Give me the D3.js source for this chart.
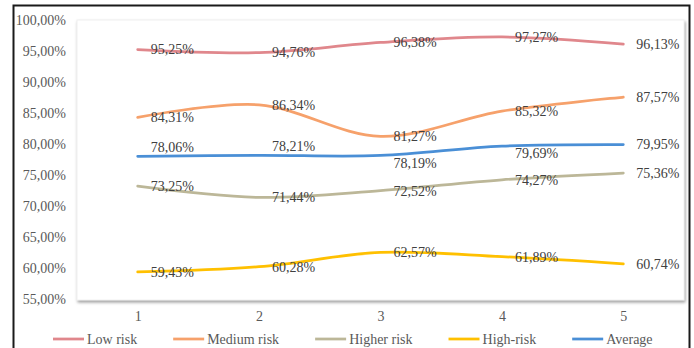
<!DOCTYPE html>
<html>
<head>
<meta charset="utf-8">
<script src="https://cdn.jsdelivr.net/npm/d3@7"></script>
<style>
  html, body { margin: 0; padding: 0; background: #fff; }
  svg { display: block; font-family: "Liberation Serif", "Times New Roman", serif; }
</style>
</head>
<body>
<svg id="chart" width="694" height="348"></svg>
<script>
// Periods on the x axis
const periods = [1, 2, 3, 4, 5];

// Share per risk group (%), one array per series
const lowRisk    = [95.25, 94.76, 96.38, 97.27, 96.13];
const mediumRisk = [84.31, 86.34, 81.27, 85.32, 87.57];
const higherRisk = [73.25, 71.44, 72.52, 74.27, 75.36];
const highRisk   = [59.43, 60.28, 62.57, 61.89, 60.74];
const average    = [78.06, 78.21, 78.19, 79.69, 79.95];

const seriesNames = ["Low risk", "Medium risk", "Higher risk", "High-risk", "Average"];
const seriesValues = [lowRisk, mediumRisk, higherRisk, highRisk, average];
const seriesColors = ["#e0878c", "#f6a16b", "#bcb798", "#ffc000", "#4a8fd6"];

// Y axis ticks
const yTicks = [55, 60, 65, 70, 75, 80, 85, 90, 95, 100];

// Vertical nudges for the labels of each series (keeps Average labels clear of the line)
const labelNudge = [
  [0, 0, 0, 0, 0],
  [0, 0, 0, 0, 0],
  [0, 0, 0, 0, 0],
  [0, 0, 0, 0, 0],
  [-9, -9, 8, 7, 0]
];

const fmt = v => v.toFixed(2).replace(".", ",") + "%";

const svg = d3.select("#chart");

// Outer frame
svg.append("rect")
  .attr("x", 13.5).attr("y", 5.5)
  .attr("width", 676).attr("height", 360)
  .attr("fill", "#fff").attr("stroke", "#1a1a1a").attr("stroke-width", 2);

const plot = { left: 77, right: 684, top: 20, bottom: 300 };

// Soft shadow under the plot area
const defs = svg.append("defs");
const f = defs.append("filter").attr("id", "shadow")
  .attr("x", "-5%").attr("y", "-5%").attr("width", "110%").attr("height", "115%");
f.append("feDropShadow").attr("dx", 1).attr("dy", 2).attr("stdDeviation", 1.5)
  .attr("flood-color", "#7f7f7f").attr("flood-opacity", 0.75);

svg.append("rect")
  .attr("x", plot.left).attr("y", plot.top)
  .attr("width", plot.right - plot.left).attr("height", plot.bottom - plot.top)
  .attr("fill", "#fff").attr("stroke", "#f0f0f0").attr("stroke-width", 1)
  .attr("filter", "url(#shadow)");

const x = d3.scalePoint().domain(periods).range([plot.left, plot.right]).padding(0.5);
const y = d3.scaleLinear().domain([55, 100]).range([299.5, 20]);

// Y axis labels
const yAxis = d3.axisLeft(y).tickValues(yTicks).tickSize(0).tickPadding(0)
  .tickFormat(d => d.toFixed(2).replace(".", ",") + "%");
const yg = svg.append("g").attr("transform", "translate(66,0)").call(yAxis);
yg.select(".domain").remove();
yg.selectAll("text").attr("font-size", 14).attr("fill", "#595959")
  .attr("font-family", "Liberation Serif, serif");

// X axis labels
const xAxis = d3.axisBottom(x).tickSize(0).tickPadding(0);
const xg = svg.append("g").attr("transform", "translate(0,311)").call(xAxis);
xg.select(".domain").remove();
xg.selectAll("text").attr("font-size", 14).attr("fill", "#595959")
  .attr("font-family", "Liberation Serif, serif");

// Smoothed lines
const line = d3.line()
  .x((d, i) => x(periods[i]))
  .y(d => y(d))
  .curve(d3.curveCatmullRom.alpha(0.5));

seriesValues.forEach((vals, s) => {
  svg.append("path")
    .datum(vals)
    .attr("d", line)
    .attr("fill", "none")
    .attr("stroke", seriesColors[s])
    .attr("stroke-width", 2.75)
    .attr("stroke-linecap", "round");
});

// Data labels, placed to the right of each point
seriesValues.forEach((vals, s) => {
  svg.append("g").selectAll("text")
    .data(vals)
    .join("text")
    .attr("x", (d, i) => x(periods[i]) + 13)
    .attr("y", (d, i) => y(d) + labelNudge[s][i])
    .attr("dy", "0.35em")
    .attr("font-size", 14)
    .attr("fill", "#404040")
    .text(d => fmt(d));
});

// Legend
const legend = svg.append("g").attr("transform", "translate(0,339)");
let lx = 53;
seriesNames.forEach((name, s) => {
  legend.append("line")
    .attr("x1", lx).attr("x2", lx + 31)
    .attr("y1", 0).attr("y2", 0)
    .attr("stroke", seriesColors[s]).attr("stroke-width", 2.75);
  const t = legend.append("text")
    .attr("x", lx + 34).attr("y", 0).attr("dy", "0.35em")
    .attr("font-size", 14).attr("fill", "#595959")
    .text(name);
  lx += 34 + t.node().getComputedTextLength() + 36;
});
</script>
</body>
</html>
